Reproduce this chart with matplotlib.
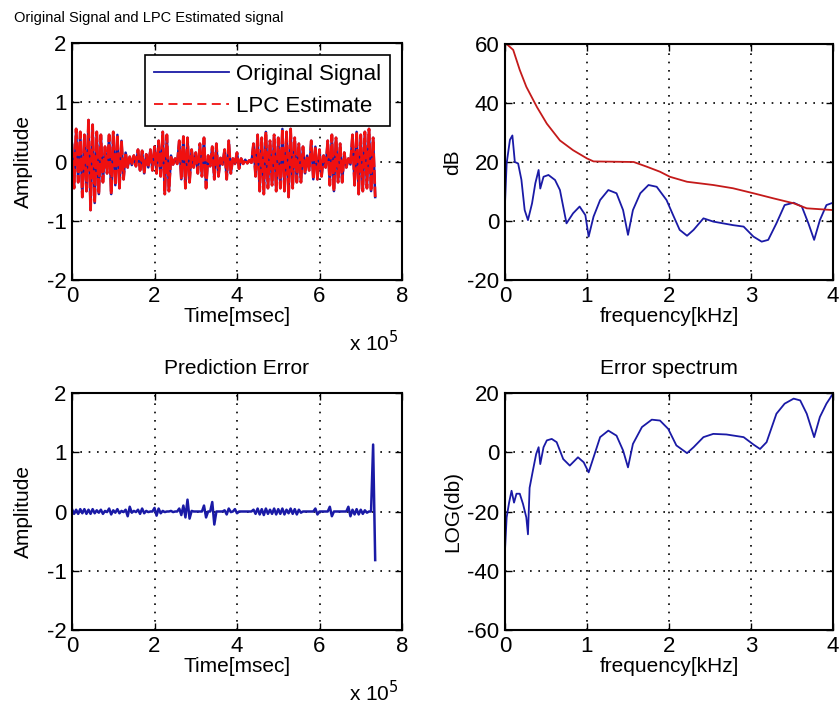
import matplotlib
matplotlib.use("Agg")
import matplotlib.pyplot as plt
import numpy as np
from matplotlib.ticker import FuncFormatter

plt.rcParams['font.family'] = ['Liberation Sans', 'DejaVu Sans']
plt.rcParams['font.size'] = 15
plt.rcParams['axes.unicode_minus'] = False

# speech samples, one every 5000 msec from 0 to 7.35e5
signal = [0.3, -0.45, 0.55, -0.35, 0.5, -0.6, 0.45, -0.5, 0.7, -0.82,
          0.62, -0.7, 0.5, -0.55, 0.45, -0.35, 0.25, -0.2, 0.45, -0.55,
          0.5, -0.4, 0.45, -0.45, 0.35, -0.3, 0.15, -0.1, 0.08, -0.06,
          0.1, -0.08, 0.2, -0.15, 0.18, -0.2, 0.12, -0.1, 0.2, -0.15,
          0.25, -0.2, 0.35, -0.25, 0.5, -0.55, 0.45, -0.5, 0.1, -0.05,
          0.05, -0.04, 0.35, -0.3, 0.42, -0.45, 0.4, -0.35, 0.2, -0.1,
          0.15, -0.2, 0.3, -0.25, 0.4, -0.45, 0.1, -0.08, 0.25, -0.3,
          0.3, -0.25, 0.06, -0.05, 0.2, -0.3, 0.35, -0.2, 0.05, -0.04,
          0.15, -0.12, 0.05, -0.04, 0.03, -0.03, 0.02, -0.02, 0.3, -0.25,
          0.45, -0.5, 0.4, -0.55, 0.5, -0.45, 0.35, -0.4, 0.45, -0.5,
          0.4, -0.45, 0.55, -0.5, 0.5, -0.6, 0.55, -0.45, 0.4, -0.35,
          0.3, -0.35, 0.25, -0.2, 0.1, -0.15, 0.35, -0.3, 0.25, -0.3,
          0.2, -0.25, 0.1, -0.1, 0.35, -0.4, 0.45, -0.5, 0.4, -0.35,
          0.3, -0.35, 0.15, -0.1, 0.05, -0.05, 0.45, -0.4, 0.5, -0.55,
          0.45, -0.5, 0.5, -0.45, 0.55, -0.5, 0.4, -0.6]

pred_error = [0.04, -0.04, 0.03, -0.04, 0.04, -0.03, 0.04, -0.04, 0.03, -0.04,
              0.04, -0.03, 0.02, -0.02, 0.03, -0.04, 0.01, -0.01, 0.05, -0.05,
              0.02, -0.02, 0.04, -0.03, 0.01, -0.01, 0.03, -0.08, 0.08, -0.02,
              0.01, -0.01, 0.03, -0.04, 0.05, -0.03, 0.01, -0.01, 0.0, 0.0,
              0.06, -0.07, 0.05, -0.03, 0.01, -0.01, 0.0, 0.0, 0.01, -0.01,
              0.0, 0.0, 0.05, -0.06, 0.1, -0.1, 0.2, -0.12, 0.01, 0.0,
              0.0, 0.0, 0.0, 0.0, 0.1, -0.1, 0.0, 0.0, 0.16, -0.22,
              0.0, 0.0, 0.0, 0.0, 0.02, -0.05, 0.05, -0.01, 0.0, 0.04,
              -0.03, 0.0, 0.0, 0.0, 0.0, 0.0, 0.0, 0.0, 0.03, -0.04,
              0.05, -0.05, 0.04, -0.06, 0.05, -0.04, 0.03, -0.04, 0.05, -0.05,
              0.04, -0.04, 0.05, -0.05, 0.03, -0.03, 0.05, -0.04, 0.04, -0.05,
              0.03, -0.02, 0.0, 0.0, 0.0, 0.0, 0.0, 0.0, 0.05, -0.05,
              0.0, 0.0, 0.0, 0.0, 0.0, 0.08, -0.08, 0.0, 0.0, 0.0,
              0.0, 0.0, 0.0, 0.0, 0.08, -0.08, 0.03, -0.05, 0.04, -0.05,
              0.03, -0.04, 0.02, -0.02, 0.0, 0.0, 1.13, -0.82]

time_ms = np.arange(len(signal)) * 5000.0

# LPC envelope (red) and signal spectrum (blue), dB vs kHz
env_f = [0.02, 0.1, 0.18, 0.26, 0.39, 0.51, 0.67, 0.83, 1.0, 1.08, 1.57, 1.73,
         1.89, 2.01, 2.22, 2.54, 2.78, 3.03, 3.27, 3.52, 3.68, 4.0]
env_db = [60, 58, 51.2, 45.5, 38.6, 33, 27.3, 24, 21.2, 20.2, 20, 18.4,
          16.7, 15, 13.3, 12.2, 11.1, 9.4, 7.7, 6, 4.3, 3.7]

spec_f = [0, 0.02, 0.06, 0.09, 0.12, 0.16, 0.2, 0.24, 0.28, 0.33, 0.37, 0.41,
          0.43, 0.47, 0.53, 0.61, 0.67, 0.75, 0.83, 0.91, 0.98, 1.02, 1.08,
          1.16, 1.26, 1.36, 1.44, 1.5, 1.56, 1.65, 1.75, 1.85, 1.97, 2.05,
          2.13, 2.22, 2.3, 2.42, 2.54, 2.66, 2.78, 2.91, 3.03, 3.13, 3.21,
          3.31, 3.41, 3.52, 3.62, 3.7, 3.77, 3.84, 3.92, 4.0]
spec_db = [6, 19.5, 27.5, 29, 20, 19.5, 14, 3.7, 0.3, 6, 12.8, 17.3,
           11, 15, 15.6, 13.9, 10.5, -0.8, 2.6, 4.9, 2, -5.3, 1.5,
           7.1, 10.5, 9.4, 3.7, -4.7, 3.7, 9.4, 12.2, 11.6, 7.1, 2,
           -3, -5, -3, 0.9, -0.2, -0.8, -1.4, -1.9, -5.3, -7, -6.4,
           -0.8, 5.4, 6.2, 4.9, -0.8, -6.4, 0.3, 5.4, 6.2]

err_f = [0, 0.02, 0.05, 0.08, 0.11, 0.14, 0.18, 0.22, 0.26, 0.28, 0.3, 0.34,
         0.38, 0.41, 0.43, 0.47, 0.51, 0.57, 0.63, 0.71, 0.79, 0.89, 0.96,
         1.02, 1.08, 1.16, 1.26, 1.36, 1.44, 1.5, 1.56, 1.67, 1.79, 1.89,
         1.99, 2.09, 2.22, 2.3, 2.42, 2.54, 2.7, 2.91, 3.03, 3.11, 3.19,
         3.31, 3.41, 3.52, 3.6, 3.68, 3.77, 3.84, 3.92, 4.0]
err_db = [-33, -22, -17, -13, -17, -14, -14, -17.5, -22, -27.7, -12, -6.2,
          -0.6, 1.7, -4, 1.7, 4, 4.5, 3.4, -2.3, -4.5, -1.7, -3.4,
          -6.8, -1.7, 5.1, 7.3, 5.6, 0.6, -5.1, 2.8, 8.5, 11, 10.7,
          7.9, 2.3, -0.3, 1.7, 5.1, 6.2, 6, 5.1, 2.6, 1.1, 3.4,
          13, 16.4, 18.1, 17.5, 13, 5.1, 11.9, 16.4, 19.8]

BLUE = '#1a1aa6'
RED = '#f01010'

fig = plt.figure(figsize=(8.4, 7.04), dpi=100)
W, H = 840.0, 704.0


def make_ax(x0, x1, y0, y1):
    ax = fig.add_axes([x0 / W, 1 - y1 / H, (x1 - x0) / W, (y1 - y0) / H])
    ax.grid(True, color='black', linestyle=(0, (1, 4)), linewidth=1.2)
    ax.tick_params(direction='in', top=True, right=True, length=5, width=1,
                   labelsize=16)
    ax.tick_params(axis='x', pad=4)
    ax.tick_params(axis='y', pad=4)
    for s in ax.spines.values():
        s.set_linewidth(1.5)
    return ax


sci = FuncFormatter(lambda v, p: '%g' % (v / 1e5))

# top left
ax1 = make_ax(72, 402, 43, 280)
ax1.plot(time_ms, signal, color=BLUE, lw=1.8, label='Original Signal')
ax1.plot(time_ms, signal, color=RED, lw=2.0, ls=(0, (5, 1)), label='LPC Estimate')
ax1.set_xlim(0, 8e5)
ax1.set_ylim(-2, 2)
ax1.set_xticks([0, 2e5, 4e5, 6e5, 8e5])
ax1.set_yticks([-2, -1, 0, 1, 2])
ax1.xaxis.set_major_formatter(sci)
ax1.set_xlabel('Time[msec]', labelpad=0)
ax1.set_ylabel('Amplitude', labelpad=10)
ax1.text(0.84, -0.3, r'x 10$^5$', transform=ax1.transAxes, fontsize=15)
leg = ax1.legend(loc='upper right', bbox_to_anchor=(0.964, 0.95), borderaxespad=0,
                 fancybox=False, edgecolor='black', framealpha=1, handlelength=3.4,
                 fontsize=16, borderpad=0.4, labelspacing=0.5, handletextpad=0.3)
leg.get_frame().set_linewidth(1.2)
leg.get_lines()[0].set_linewidth(1.3)
leg.get_lines()[1].set_linewidth(1.3)
leg.get_lines()[1].set_linestyle((0, (5, 3)))
fig.text(14 / W, 1 - 18 / H, 'Original Signal and LPC Estimated signal',
         fontsize=10.5, va='center', ha='left')

# top right
ax2 = make_ax(505, 833, 44, 280)
ax2.plot(spec_f, spec_db, color=BLUE, lw=1.3)
ax2.plot(env_f, env_db, color='#c41a1a', lw=1.3)
ax2.set_xlim(0, 4)
ax2.set_ylim(-20, 60)
ax2.set_xticks([0, 1, 2, 3, 4])
ax2.set_yticks([-20, 0, 20, 40, 60])
ax2.set_xlabel('frequency[kHz]', labelpad=0)
ax2.set_ylabel('dB', labelpad=4)

# bottom left
ax3 = make_ax(72, 402, 393, 630)
ax3.plot(time_ms, pred_error, color=BLUE, lw=1.8)
ax3.set_xlim(0, 8e5)
ax3.set_ylim(-2, 2)
ax3.set_xticks([0, 2e5, 4e5, 6e5, 8e5])
ax3.set_yticks([-2, -1, 0, 1, 2])
ax3.xaxis.set_major_formatter(sci)
ax3.set_xlabel('Time[msec]', labelpad=0)
ax3.set_ylabel('Amplitude', labelpad=10)
ax3.set_title('Prediction Error', fontsize=15, pad=14)
ax3.text(0.84, -0.3, r'x 10$^5$', transform=ax3.transAxes, fontsize=15)

# bottom right
ax4 = make_ax(505, 833, 393, 630)
ax4.plot(err_f, err_db, color=BLUE, lw=1.3)
ax4.set_xlim(0, 4)
ax4.set_ylim(-60, 20)
ax4.set_xticks([0, 1, 2, 3, 4])
ax4.set_yticks([-60, -40, -20, 0, 20])
ax4.set_xlabel('frequency[kHz]', labelpad=0)
ax4.set_ylabel('LOG(db)', labelpad=4)
ax4.set_title('Error spectrum', fontsize=15, pad=14)

fig.savefig('out.png', dpi=100)
